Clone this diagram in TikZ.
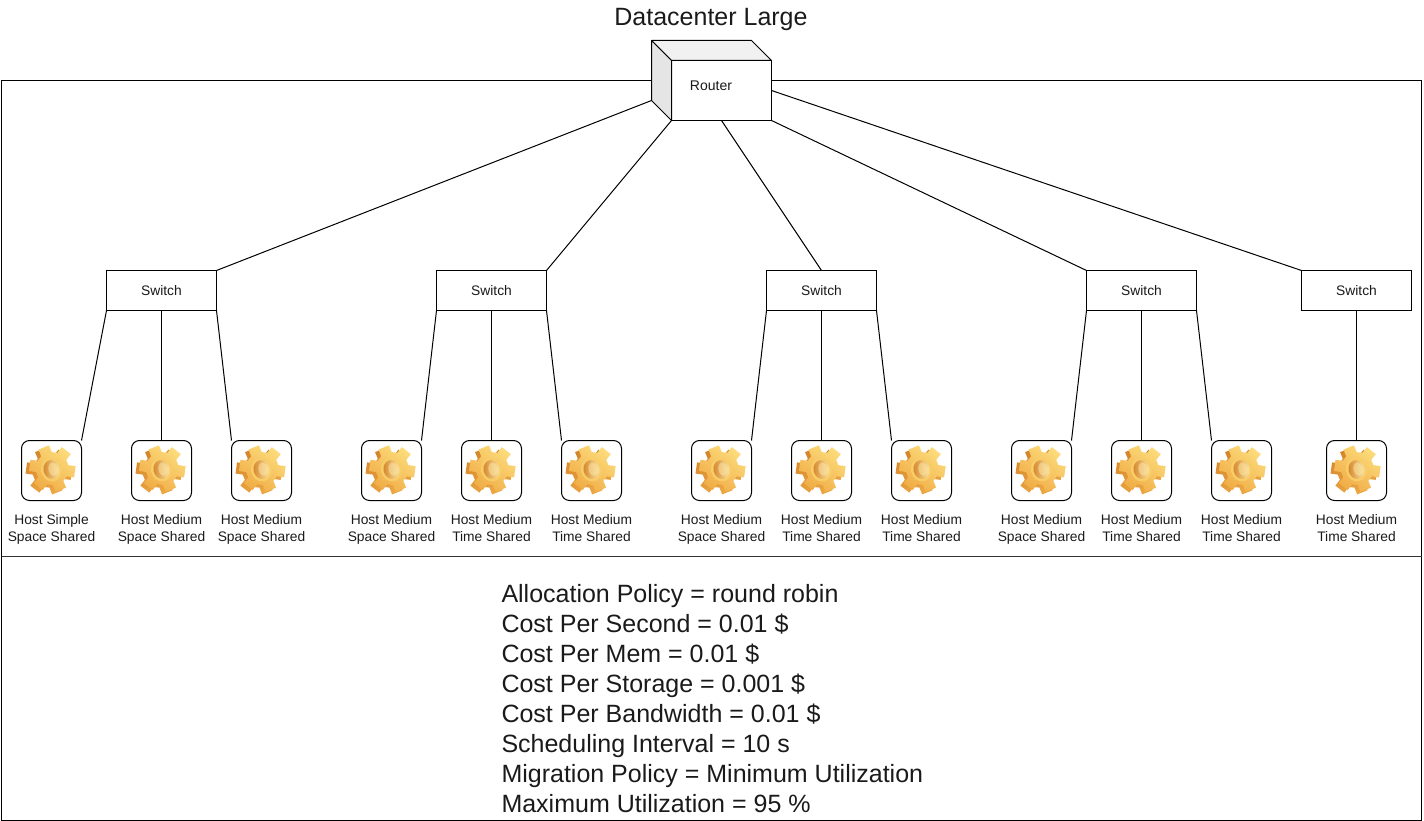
\documentclass[tikz,border=0pt]{standalone}
\usepackage{fontspec}
\setmainfont{Liberation Sans}
\usetikzlibrary{calc}
\definecolor{inkc}{HTML}{1A1A1A}
\definecolor{gearA}{HTML}{FDDC7C}
\definecolor{gearB}{HTML}{F0AC46}
\definecolor{gearC}{HTML}{D4842A}
\definecolor{gearD}{HTML}{EDA843}
\definecolor{gearH}{HTML}{F8CD68}
\definecolor{gearL}{HTML}{FDE9A8}
\tikzset{
  x=1pt,y=-1pt,
  every node/.style={outer sep=0pt},
  every path/.style={line width=1pt},
  wire/.style={draw=black,line width=1pt},
  switchbox/.style={draw=black,fill=white,minimum width=110pt,minimum height=40pt,inner sep=0pt,text=inkc,font=\fontsize{13.8}{16}\selectfont},
  iconbox/.style={draw=black,fill=white,rounded corners=8pt,minimum width=60pt,minimum height=60pt,inner sep=0pt},
  hostlabel/.style={align=center,inner sep=0pt,text=inkc,font=\fontsize{13.8}{17}\selectfont},
  gearicon/.pic={
    \begin{scope}[rotate=-8]
    \shade[left color=gearC,right color=gearD,shading angle=20]
      ($(-2.5,1)+(-18:16.5)$) foreach \k in {0,60,...,300}{
        -- ($(-2.5,1)+(\k-20:16.5)$) -- ($(-2.5,1)+(\k-14:23.5)$) -- ($(-2.5,1)+(\k+14:23.5)$) -- ($(-2.5,1)+(\k+20:16.5)$)
      } -- cycle;
    \shade[top color=gearA,bottom color=gearB,shading angle=-35]
      ($(0.5,-2)+(-18:16.5)$) foreach \k in {0,60,...,300}{
        -- ($(0.5,-2)+(\k-20:16.5)$) -- ($(0.5,-2)+(\k-14:23.5)$) -- ($(0.5,-2)+(\k+14:23.5)$) -- ($(0.5,-2)+(\k+20:16.5)$)
      } -- cycle;
    \end{scope}
    \begin{scope}[shift={(0,-1)},rotate=12]
    \fill[gearH] (0,0) ellipse[x radius=10.5,y radius=12];
    \shade[left color=gearC,right color=gearL] (0,0) ellipse[x radius=8,y radius=9.5];
    \fill[gearL,opacity=.5] (1.5,0) ellipse[x radius=4.5,y radius=6.5];
    \end{scope}
  }
}
\begin{document}
\begin{tikzpicture}
\useasboundingbox (0,0) rectangle (1424,821);
% frame and divider
\node[draw=black,minimum width=1420pt,minimum height=740pt,inner sep=0pt,anchor=north west] (frame) at (1.5,80.5) {};
\coordinate (divL) at (1.5,556);
\coordinate (divR) at (1421.5,556);
\draw[draw=black!80,line width=1pt] (divL) -- (divR);

\node[inner sep=0pt,text=inkc,font=\fontsize{25}{28}\selectfont] (title) at (711,19) {Datacenter Large};

% router
\coordinate (rbA) at (651.5,40.5);
\coordinate (rbB) at (751.5,40.5);
\coordinate (rbC) at (651.5,100.5);
\node[draw=black,fill=white,minimum width=100pt,minimum height=60pt,inner sep=0pt,anchor=north west] (router) at (671.5,60.5) {};
\node[inner sep=0pt,text=inkc,font=\fontsize{14}{16}\selectfont] (routerlabel) at (711,85.5) {Router};
\draw[wire,fill=black!5.5,line join=round] (rbA) -- (rbB) -- (router.north east) -- (router.north west) -- cycle;
\draw[wire,fill=black!10,line join=round] (rbA) -- (router.north west) -- (router.south west) -- (rbC) -- cycle;

% switches
\node[switchbox] (s1) at (161.5,290.5) {Switch};
\node[switchbox] (s2) at (491.5,290.5) {Switch};
\node[switchbox] (s3) at (821.5,290.5) {Switch};
\node[switchbox] (s4) at (1141.5,290.5) {Switch};
\node[switchbox] (s5) at (1356.5,290.5) {Switch};

% hosts
\foreach \n/\cx/\la/\lb in {
  h1/51.5/Host Simple/Space Shared,
  h2/161.5/Host Medium/Space Shared,
  h3/261.5/Host Medium/Space Shared,
  h4/391.5/Host Medium/Space Shared,
  h5/491.5/Host Medium/Time Shared,
  h6/591.5/Host Medium/Time Shared,
  h7/721.5/Host Medium/Space Shared,
  h8/821.5/Host Medium/Time Shared,
  h9/921.5/Host Medium/Time Shared,
  h10/1041.5/Host Medium/Space Shared,
  h11/1141.5/Host Medium/Time Shared,
  h12/1241.5/Host Medium/Time Shared,
  h13/1356.5/Host Medium/Time Shared}{
  \node[iconbox] (\n) at (\cx,470.5) {};
  \pic at (\n.center) {gearicon};
  \node[hostlabel] (\n label) at (\cx,529.6) {\strut\la\\\strut\lb};
}

% router links
\draw[wire] (rbC) -- (s1.north east);
\draw[wire] (router.south west) -- (s2.north east);
\draw[wire] (router.south) -- (s3.north);
\draw[wire] (router.south east) -- (s4.north west);
\draw[wire] (router.east |- 0,90.5) -- (s5.north west);

% switch links
\draw[wire] (s1.south west) -- (h1.north east);
\draw[wire] (s1.south) -- (h2.north);
\draw[wire] (s1.south east) -- (h3.north west);
\draw[wire] (s2.south west) -- (h4.north east);
\draw[wire] (s2.south) -- (h5.north);
\draw[wire] (s2.south east) -- (h6.north west);
\draw[wire] (s3.south west) -- (h7.north east);
\draw[wire] (s3.south) -- (h8.north);
\draw[wire] (s3.south east) -- (h9.north west);
\draw[wire] (s4.south west) -- (h10.north east);
\draw[wire] (s4.south) -- (h11.north);
\draw[wire] (s4.south east) -- (h12.north west);
\draw[wire] (s5.south) -- (h13.north);

% policy text
\node[anchor=north west,align=left,inner sep=0pt,text=inkc,font=\fontsize{25}{30}\selectfont] (policy) at (501.5,584) {Allocation Policy = round robin\\
Cost Per Second = 0.01 \$\\
Cost Per Mem = 0.01 \$\\
Cost Per Storage = 0.001 \$\\
Cost Per Bandwidth = 0.01 \$\\
Scheduling Interval = 10 s\\
Migration Policy = Minimum Utilization\\
Maximum Utilization = 95 \%};
\end{tikzpicture}
\end{document}
